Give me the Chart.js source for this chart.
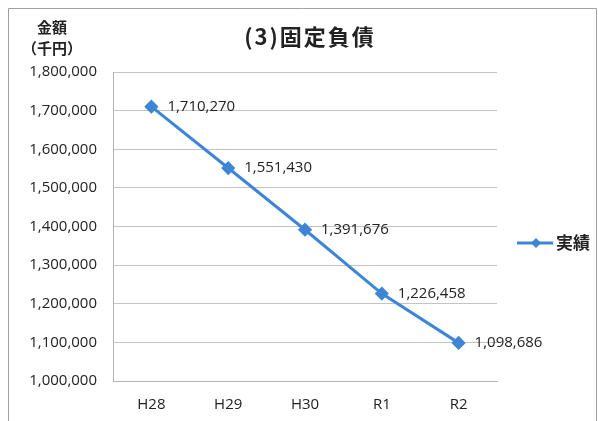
<!DOCTYPE html>
<html>
<head>
<meta charset="utf-8">
<script src="https://cdn.jsdelivr.net/npm/chart.js@4/dist/chart.umd.min.js"></script>
<style>
  html, body { margin: 0; padding: 0; background: #fff; }
  #wrap { width: 598px; height: 421px; position: relative; }
</style>
</head>
<body>
<div id="wrap"><canvas id="c" width="598" height="421"></canvas></div>
<script>
const categories = ['H28', 'H29', 'H30', 'R1', 'R2'];
const seriesName = '実績';
const values = [1710270, 1551430, 1391676, 1226458, 1098686];
const yTickMin = 1000000;
const yTickMax = 1800000;
const yTickStep = 100000;
const titleText = '(3)固定負債';
const yTitleLines = ['金額', '（千円）'];

const LINE_COLOR = '#3d85d5';
const TEXT_COLOR = '#222';
const NUM_FONT = '"Open Sans", "Liberation Sans", sans-serif';
const JP_FONT = '"Noto Sans CJK JP", sans-serif';

const decorPlugin = {
  id: 'decor',
  beforeDraw(chart) {
    const ctx = chart.ctx;
    ctx.save();
    ctx.fillStyle = '#fff';
    ctx.fillRect(0, 0, chart.width, chart.height);
    ctx.strokeStyle = '#a0a0a0';
    ctx.lineWidth = 1;
    ctx.beginPath();
    ctx.moveTo(8.5, 425);
    ctx.lineTo(8.5, 8.5);
    ctx.lineTo(596.5, 8.5);
    ctx.lineTo(596.5, 425);
    ctx.stroke();
    ctx.restore();
  },
  afterDraw(chart) {
    const ctx = chart.ctx;
    ctx.save();
    // title
    ctx.fillStyle = TEXT_COLOR;
    ctx.font = 'bold 22px ' + JP_FONT;
    ctx.textAlign = 'center';
    ctx.textBaseline = 'middle';
    if ('letterSpacing' in ctx) ctx.letterSpacing = '2px';
    ctx.fillText(titleText, 310, 37);
    if ('letterSpacing' in ctx) ctx.letterSpacing = '0px';
    // y-axis title
    ctx.font = 'bold 15px ' + JP_FONT;
    ctx.fillText(yTitleLines[0], 52, 27);
    ctx.fillText(yTitleLines[1], 52, 48);
    // legend
    ctx.strokeStyle = LINE_COLOR;
    ctx.lineWidth = 3;
    ctx.beginPath();
    ctx.moveTo(517, 243);
    ctx.lineTo(553, 243);
    ctx.stroke();
    ctx.fillStyle = LINE_COLOR;
    ctx.beginPath();
    ctx.moveTo(536, 238);
    ctx.lineTo(541, 243);
    ctx.lineTo(536, 248);
    ctx.lineTo(531, 243);
    ctx.closePath();
    ctx.fill();
    ctx.fillStyle = TEXT_COLOR;
    ctx.font = 'bold 17px ' + JP_FONT;
    ctx.textAlign = 'left';
    ctx.fillText(seriesName, 556, 243);
    ctx.restore();
  },
  afterDatasetsDraw(chart) {
    const ctx = chart.ctx;
    const meta = chart.getDatasetMeta(0);
    ctx.save();
    ctx.fillStyle = TEXT_COLOR;
    ctx.font = '15px ' + NUM_FONT;
    ctx.textAlign = 'left';
    ctx.textBaseline = 'middle';
    meta.data.forEach((pt, i) => {
      ctx.fillText(values[i].toLocaleString('en-US'), pt.x + 16, pt.y);
    });
    ctx.restore();
  }
};

new Chart(document.getElementById('c'), {
  type: 'line',
  data: {
    labels: categories,
    datasets: [{
      label: seriesName,
      data: values,
      borderColor: LINE_COLOR,
      backgroundColor: LINE_COLOR,
      borderWidth: 3,
      pointStyle: 'rectRot',
      pointRadius: 5,
      pointHoverRadius: 5,
      tension: 0
    }]
  },
  options: {
    responsive: false,
    animation: false,
    events: [],
    layout: { padding: { left: 0, top: 72, right: 101, bottom: 0 } },
    plugins: { legend: { display: false }, title: { display: false }, tooltip: { enabled: false } },
    scales: {
      x: {
        offset: true,
        grid: { display: false, drawTicks: false },
        border: { display: true, color: '#b5b5b5', width: 1 },
        ticks: { color: TEXT_COLOR, font: { family: NUM_FONT, size: 15 }, padding: 15, maxRotation: 0 },
        afterFit(scale) { scale.height = 40; }
      },
      y: {
        min: yTickMin,
        max: yTickMax,
        grid: { color: '#c4c4c4', lineWidth: 1, drawTicks: false },
        border: { display: true, color: '#b5b5b5', width: 1 },
        ticks: {
          stepSize: yTickStep,
          color: TEXT_COLOR,
          font: { family: NUM_FONT, size: 15 },
          padding: 16,
          callback: v => v.toLocaleString('en-US')
        },
        afterFit(scale) { scale.width = 113; }
      }
    }
  },
  plugins: [decorPlugin]
});
</script>
</body>
</html>
